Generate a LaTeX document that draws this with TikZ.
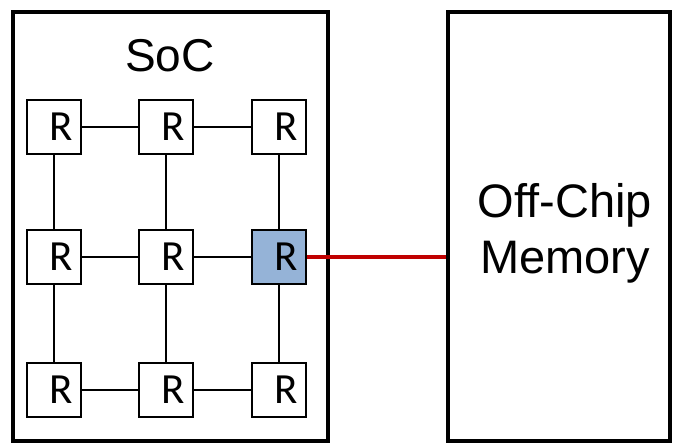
\documentclass[tikz,border=0pt]{standalone}
\usepackage{fontspec}
\setmainfont{Liberation Sans}
\newfontfamily\routerfont{Carlito}
\definecolor{socblue}{RGB}{149,179,215}
\definecolor{linkred}{RGB}{192,0,0}
\usetikzlibrary{positioning}

\begin{document}
\begin{tikzpicture}[x=1pt,y=-1pt,
  chip/.style={draw,line width=4.5pt,minimum height=429pt,inner sep=0pt},
  router/.style={draw,line width=1.8pt,minimum size=54pt,inner sep=0pt,font=\routerfont\fontsize{43}{43}\selectfont},
  link/.style={line width=2pt}]
  \useasboundingbox (0,0) rectangle (680,445);
  % chip and memory
  \node[chip,minimum width=315pt] (soc) at (170.5,226.5) {};
  \node[chip,minimum width=222pt] (mem) at (559,226.5) {};
  \node[anchor=base,font=\fontsize{46}{54}\selectfont] (soclabel) at (170,71) {SoC};
  \node[align=center,font=\fontsize{47}{56}\selectfont] (memlabel) at (565,233) {Off-Chip\\Memory};
  % 3x3 mesh of routers
  \foreach \y/\row in {127/1,257/2,390/3}{
    \foreach \x/\col in {54/1,166/2,279/3}{
      \ifnum\row\col=23 \def\rfill{socblue}\else\def\rfill{white}\fi
      \node[router,fill=\rfill] (r\row\col) at (\x,\y) {\hspace*{14pt}R};
    }
  }
  \foreach \row in {1,2,3}{
    \draw[link] (r\row1) -- (r\row2);
    \draw[link] (r\row2) -- (r\row3);
  }
  \foreach \col in {1,2,3}{
    \draw[link] (r1\col) -- (r2\col);
    \draw[link] (r2\col) -- (r3\col);
  }
  % memory link
  \draw[linkred,line width=4pt] (r23) -- (r23 -| mem.west);
\end{tikzpicture}
\end{document}
